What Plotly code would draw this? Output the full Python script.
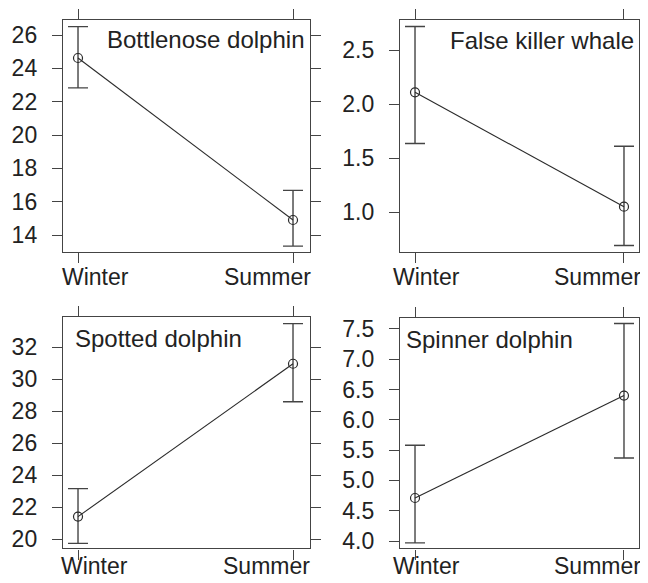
import plotly.graph_objects as go

# ---- data ----
seasons = ["Winter", "Summer"]
species = ["Bottlenose dolphin", "False killer whale", "Spotted dolphin", "Spinner dolphin"]

bottlenose_mean = [24.62, 14.90]
bottlenose_upper = [26.50, 16.68]
bottlenose_lower = [22.83, 13.33]

false_killer_mean = [2.11, 1.05]
false_killer_upper = [2.72, 1.61]
false_killer_lower = [1.635, 0.69]

spotted_mean = [21.42, 30.97]
spotted_upper = [23.17, 33.48]
spotted_lower = [19.75, 28.60]

spinner_mean = [4.71, 6.40]
spinner_upper = [5.58, 7.59]
spinner_lower = [3.97, 5.37]

y_ticks = [
    [14, 16, 18, 20, 22, 24, 26],
    [1.0, 1.5, 2.0, 2.5],
    [20, 22, 24, 26, 28, 30, 32],
    [4.0, 4.5, 5.0, 5.5, 6.0, 6.5, 7.0, 7.5],
]

means = [bottlenose_mean, false_killer_mean, spotted_mean, spinner_mean]
uppers = [bottlenose_upper, false_killer_upper, spotted_upper, spinner_upper]
lowers = [bottlenose_lower, false_killer_lower, spotted_lower, spinner_lower]

# ---- layout geometry (screen pixels of the 648x583 window) ----
OFF = 8                      # default page margin around the plot div
W, H = 648 - OFF, 583 - OFF  # figure size so the page does not overflow


def px(x):
    return (x - OFF) / W


def py(y):
    return 1 - (y - OFF) / H


boxes = [  # x0, x1, ytop, ybottom (screen px)
    (63, 310, 20, 252),
    (400, 639, 20, 252),
    (63, 310, 316.7, 548.3),
    (400, 639, 318, 548.3),
]
y_ranges = [[12.98, 26.9], [0.63, 2.78], [19.44, 33.91], [3.88, 7.68]]
x_ranges = [[-0.0698, 1.079], [-0.0718, 1.0718], [-0.0698, 1.079], [-0.0718, 1.0718]]
tickfmt = [None, ".1f", None, ".1f"]
# title anchor points (screen px): x, top, side
title_pos = [(306, 23.5, "right"), (636, 25, "right"), (73, 322.5, "left"), (404, 323.5, "left")]
# season label shifts (px from tick, px below box bottom)
label_dx = [(17, -26), (11.5, -26.5), (16.5, -26.5), (11, -26.5)]
label_dy = [-10, -10, -2.5, -2.5]

LINE = "#444444"
TXT = "#222222"
FONT = "Liberation Sans, Arial, sans-serif"
FS = 23
FS_T = 24

fig = go.Figure()
layout = dict(
    width=W, height=H,
    margin=dict(l=0, r=0, t=0, b=0, autoexpand=False),
    paper_bgcolor="white", plot_bgcolor="white",
    showlegend=False,
    font=dict(family=FONT, size=FS, color=TXT),
)

annotations = []
xpos = [0, 1]
for i in range(4):
    n = "" if i == 0 else str(i + 1)
    x0, x1, yt, yb = boxes[i]
    m = means[i]
    up = [u - v for u, v in zip(uppers[i], m)]
    dn = [v - l for v, l in zip(m, lowers[i])]
    fig.add_trace(go.Scatter(
        x=xpos, y=m, mode="lines+markers",
        xaxis="x" + n, yaxis="y" + n,
        line=dict(color="#2a2a2a", width=1.1),
        marker=dict(symbol="circle-open", size=9, color="#2a2a2a", line=dict(width=1.2)),
        error_y=dict(type="data", symmetric=False, array=up, arrayminus=dn,
                     color=LINE, thickness=1.4, width=10),
    ))
    common = dict(showline=True, linecolor=LINE, linewidth=1.4, mirror="ticks",
                  ticks="outside", ticklen=10, tickwidth=1.4, tickcolor=LINE,
                  showgrid=False, zeroline=False, fixedrange=True, automargin=False,
                  tickfont=dict(family=FONT, size=FS, color=TXT))
    layout["xaxis" + n] = dict(
        type="linear",
        domain=[px(x0), px(x1)], range=x_ranges[i], anchor="y" + n,
        tickmode="array", tickvals=xpos, showticklabels=False, **common)
    ya = dict(domain=[py(yb), py(yt)], range=y_ranges[i], anchor="x" + n,
              tickmode="array", tickvals=y_ticks[i], ticklabelstandoff=10, **common)
    if tickfmt[i]:
        ya["tickformat"] = tickfmt[i]
    layout["yaxis" + n] = ya

    # season labels under the ticks
    for k, s in enumerate(seasons):
        annotations.append(dict(text=s, xref="x" + n, yref="y" + n + " domain",
                                x=xpos[k], y=0, xanchor="center", yanchor="top",
                                xshift=label_dx[i][k], yshift=label_dy[i],
                                showarrow=False,
                                font=dict(family=FONT, size=FS, color=TXT)))

    tx, ty, side = title_pos[i]
    annotations.append(dict(text=species[i], xref="paper", yref="paper",
                            x=px(tx), y=py(ty), xanchor=side, yanchor="top",
                            showarrow=False,
                            font=dict(family=FONT, size=FS_T, color=TXT)))

layout["annotations"] = annotations
fig.update_layout(**layout)
fig.write_html("out.html")
